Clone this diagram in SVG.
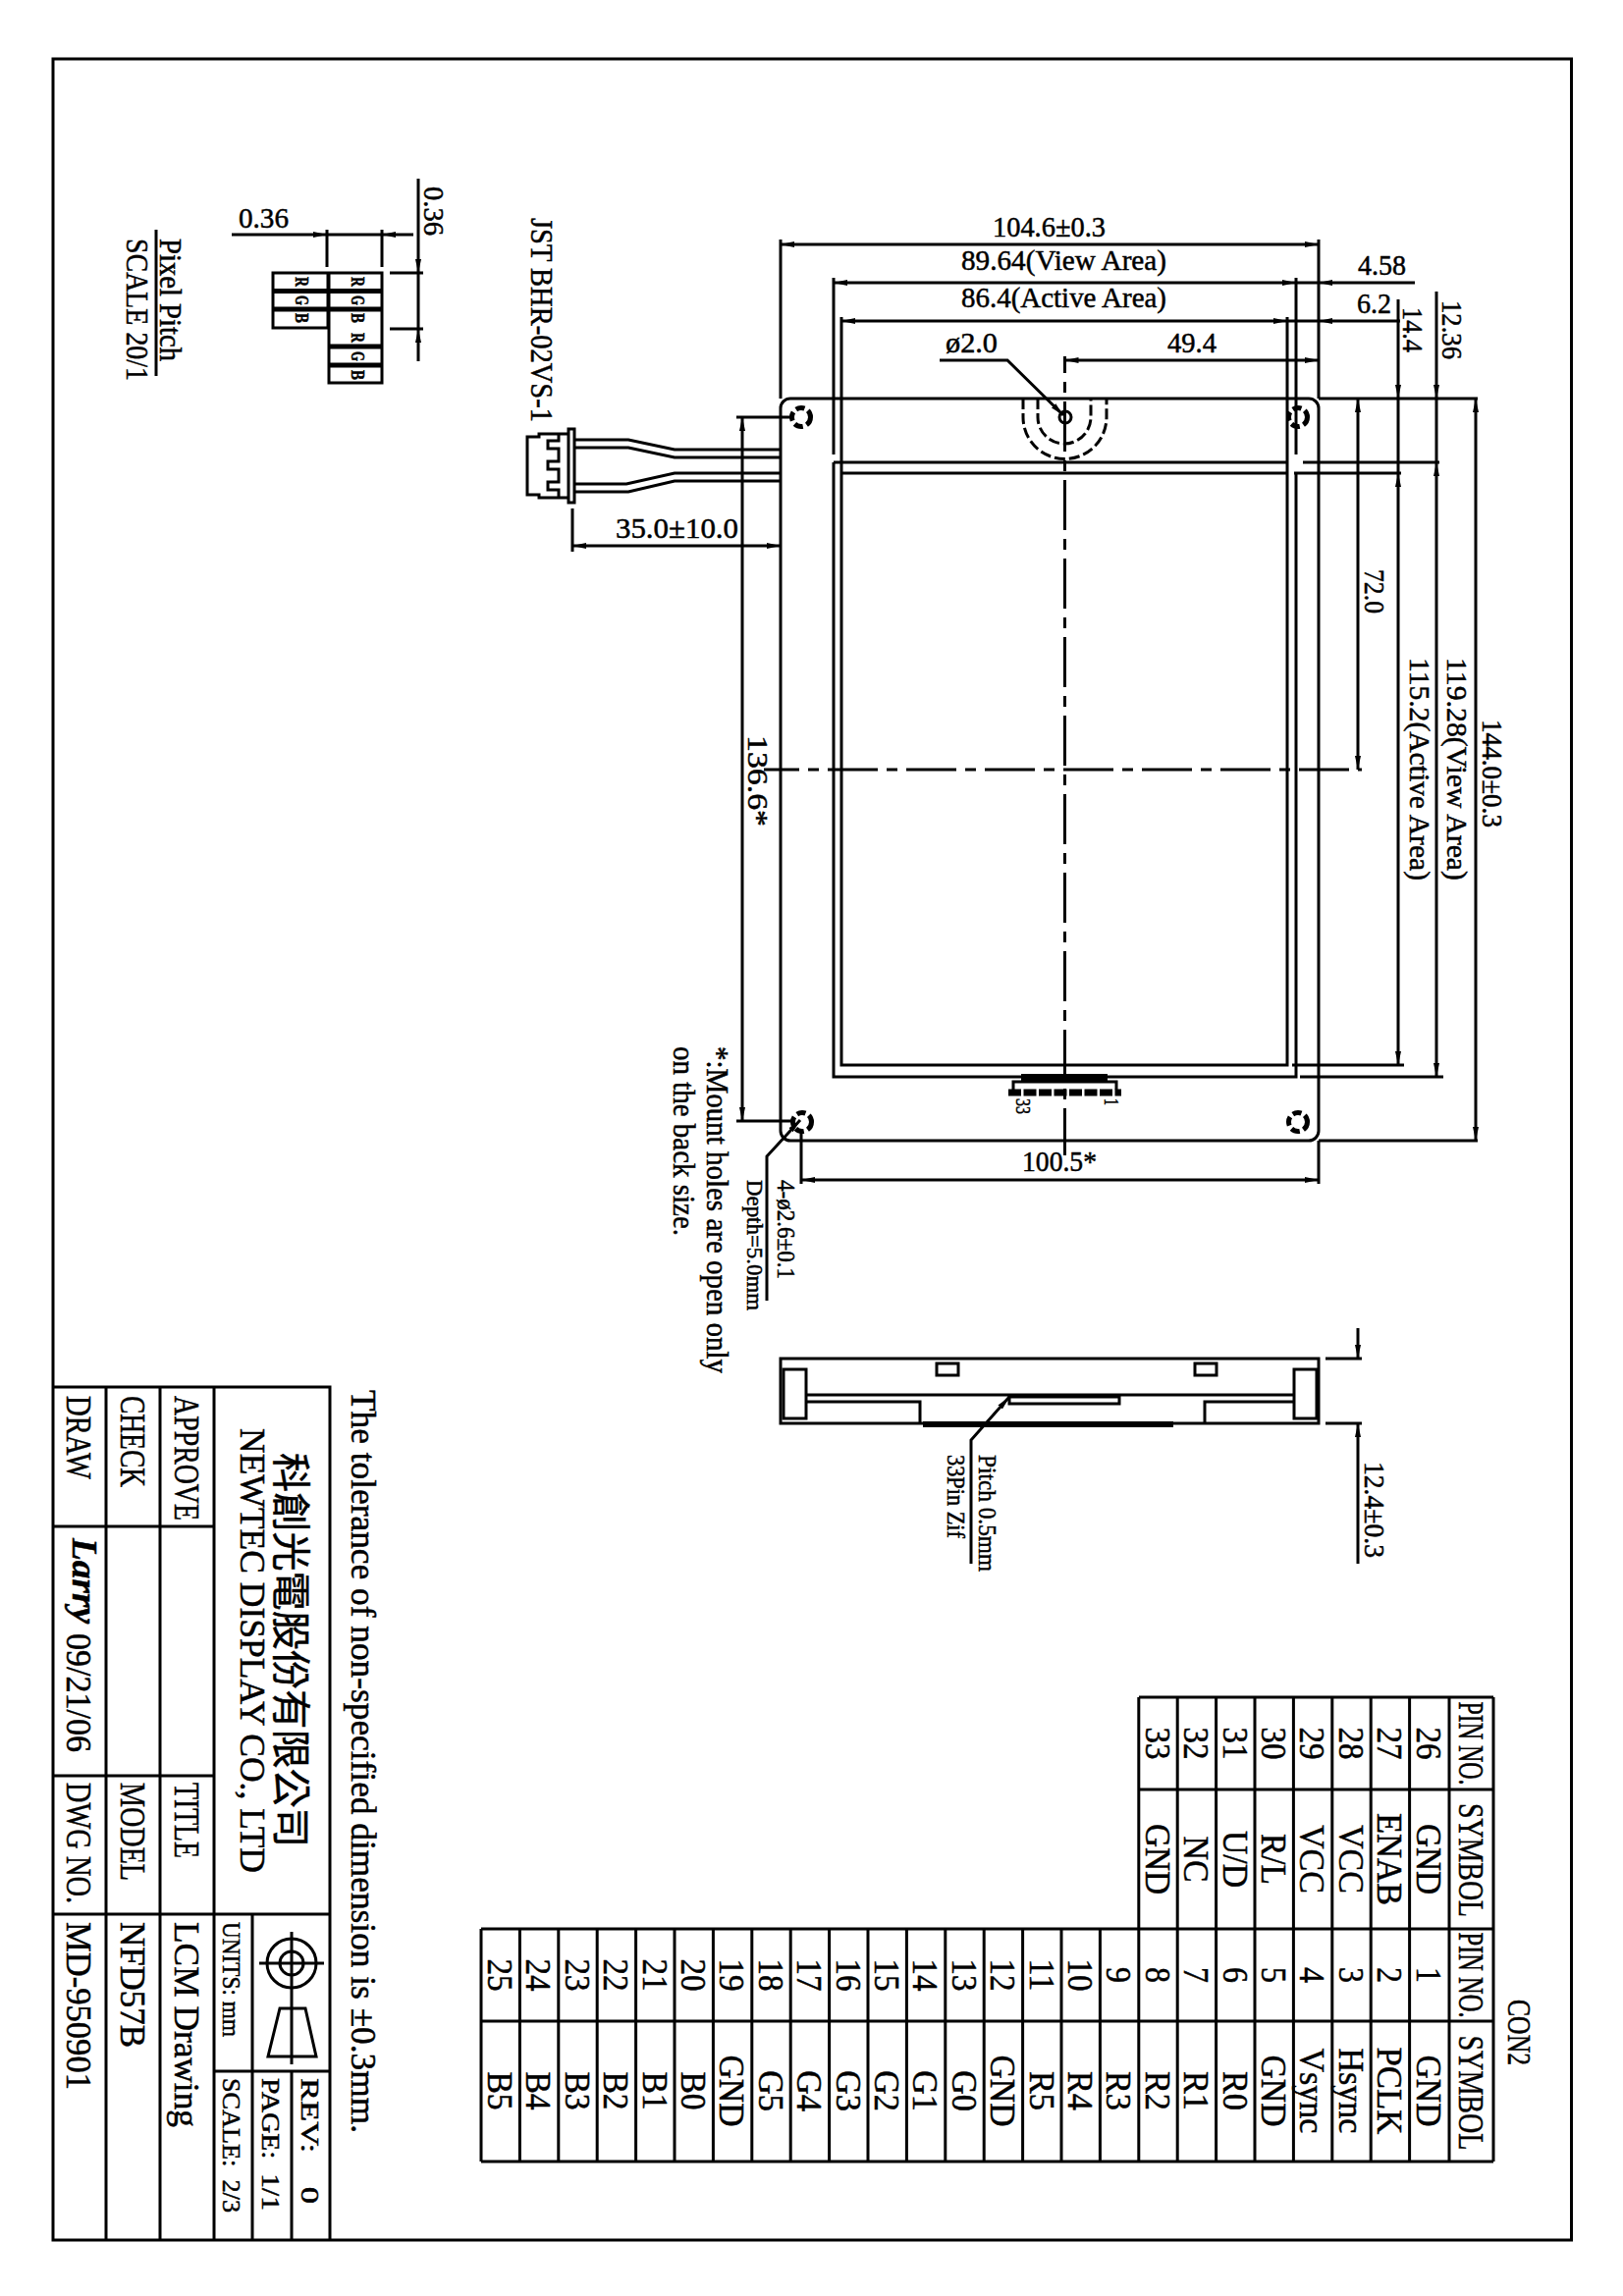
<svg xmlns="http://www.w3.org/2000/svg" width="1653" height="2339" viewBox="0 0 1653 2339">
<style>
text{font-family:"Liberation Serif","Noto Sans CJK TC",serif;fill:#000;stroke:#000;stroke-width:.5;white-space:pre}
.f30{font-size:30px}.f36{font-size:36px}.f26{font-size:26px}.f24{font-size:24px}.f32{font-size:32px}.f18{font-size:18px;font-weight:bold}.f20{font-size:20px}.f34{font-size:34px}
.m{text-anchor:middle}
.l{fill:none;stroke:#000;stroke-width:3}
.t{fill:none;stroke:#000;stroke-width:3}
.d{fill:none;stroke:#000;stroke-width:3;stroke-dasharray:11 4}
.h{fill:none;stroke:#000;stroke-width:5;stroke-dasharray:9 4}
.a{fill:none;stroke:#000;stroke-width:3;marker-end:url(#ar)}
.k{fill:#000}
</style>
<defs><marker id="ar" markerUnits="userSpaceOnUse" viewBox="0 0 14 6" refX="14" refY="3" markerWidth="14" markerHeight="6" orient="auto"><path d="M0,0 L14,3 L0,6 Z" fill="#000"/></marker></defs>
<rect fill="#fff" width="1653" height="2339"/>
<g id="frame"><rect class="l" x="54" y="60" width="1546.500" height="2222"/></g>

<g id="pixel-pitch">
<path class="l" d="M278,278H334V334H278ZM335,278H389V390H335Z"/>
<path class="l" style="stroke-width:5" d="M278,296.500H389M278,315H389M335,353H389M335,372H389"/>
<g class="f18">
<text x="301" y="282" transform="rotate(90 301 282)" textLength="10" lengthAdjust="spacingAndGlyphs">R</text>
<text x="301" y="301" transform="rotate(90 301 301)" textLength="10" lengthAdjust="spacingAndGlyphs">G</text>
<text x="301" y="319" transform="rotate(90 301 319)" textLength="10" lengthAdjust="spacingAndGlyphs">B</text>
<text x="358" y="282" transform="rotate(90 358 282)" textLength="10" lengthAdjust="spacingAndGlyphs">R</text>
<text x="358" y="301" transform="rotate(90 358 301)" textLength="10" lengthAdjust="spacingAndGlyphs">G</text>
<text x="358" y="319" transform="rotate(90 358 319)" textLength="10" lengthAdjust="spacingAndGlyphs">B</text>
<text x="358" y="339" transform="rotate(90 358 339)" textLength="10" lengthAdjust="spacingAndGlyphs">R</text>
<text x="358" y="358" transform="rotate(90 358 358)" textLength="10" lengthAdjust="spacingAndGlyphs">G</text>
<text x="358" y="377" transform="rotate(90 358 377)" textLength="10" lengthAdjust="spacingAndGlyphs">B</text>
</g>
<path class="t" d="M333,234V272M389,234V272M333,239H389M397,278H431M397,335H431"/>
<path class="a" d="M236,239H333"/><path class="a" d="M421,239H389"/>
<path class="a" d="M426,182V278"/><path class="a" d="M426,368V335"/><path class="t" d="M426,278V335"/>
<text class="f30" x="243" y="232" textLength="51" lengthAdjust="spacingAndGlyphs">0.36</text>
<text class="f30" x="432" y="190" transform="rotate(90 432 190)" textLength="50" lengthAdjust="spacingAndGlyphs">0.36</text>
<text class="f32" x="163" y="243" transform="rotate(90 163 243)" textLength="125" lengthAdjust="spacingAndGlyphs">Pixel Pitch</text>
<path class="t" d="M159,234V383"/>
<text class="f32" x="129" y="243" transform="rotate(90 129 243)" textLength="145" lengthAdjust="spacingAndGlyphs">SCALE 20/1</text>
</g>

<g id="connector-jst">
<text class="f32" x="541" y="222" transform="rotate(90 541 222)" textLength="208" lengthAdjust="spacingAndGlyphs">JST BHR-02VS-1</text>
<path class="l" d="M579,442H549V445H537V504H549V507H579M579,437H585V512H579ZM569,442V449H558V457H569V470H558V478H569V491H558V499H569V507"/>
<path class="l" d="M585,448H640L687,458H795M585,456H640L687,466H795M585,493H638L687,482H795M585,501H640L687,490H795"/>
<path class="t" d="M583,518V562"/>
<path class="a" d="M690,556H583"/><path class="a" d="M690,556H795"/>
<text class="f30" x="627" y="548" textLength="125" lengthAdjust="spacingAndGlyphs">35.0±10.0</text>
</g>

<g id="module-front">
<rect class="l" x="795" y="406" width="548" height="756" rx="10"/>
<path class="l" d="M849,471V1097H1320V482M857,482H1311V1085H857ZM849,471H1311M857,323V482M1311,323V482M849,283V463M1320,283V463"/>
<path class="l" d="M795,244V406M1343,244V406M1343,1162V1206M816,1150V1206M1343,406H1505M1343,1162H1505M1327,471H1466M1318,482H1427M1316,1085H1430M1324,1097H1470"/>
<g id="holes">
<circle class="h" cx="816" cy="425" r="9.500"/><circle class="h" cx="1322" cy="425" r="9.500"/><circle class="h" cx="817" cy="1143" r="9.500"/><circle class="h" cx="1322" cy="1143" r="9.500"/>
</g>
<path class="d" d="M1042,406V425A42.500,42.500 0 0 0 1127,425V406M1057,406V425A27,27 0 0 0 1111,425V406"/>
<circle class="t" cx="1085" cy="425" r="6"/>
<path class="t" style="stroke-dasharray:51 9 11 9;stroke-dashoffset:34" d="M1084.500,363V1177"/>
<path class="t" style="stroke-dasharray:51 9 11 9;stroke-dashoffset:15" d="M778,784H1387"/>
<path class="a" d="M957,367H1026L1083,423"/>
<rect class="k" x="1040" y="1094" width="88" height="8"/>
<path class="t" d="M1032,1110V1102H1137V1110"/>
<path class="t" style="stroke-dasharray:13 2.500;stroke-width:7" d="M1027,1113H1142"/>
<text class="f20" x="1035" y="1119" transform="rotate(90 1035 1119)" textLength="16" lengthAdjust="spacingAndGlyphs">33</text>
<text class="f20" x="1125" y="1119" transform="rotate(90 1125 1119)" textLength="7" lengthAdjust="spacingAndGlyphs">1</text>
</g>

<g id="connectors">
<path class="a" d="M1072,249H795"/><path class="a" d="M1072,249H1343"/>
<path class="a" d="M1084,288H849"/><path class="a" d="M1084,288H1320"/><path class="a" d="M1441,288H1343"/><path class="t" d="M1320,288H1343"/>
<path class="a" d="M1085,327H857"/><path class="a" d="M1085,327H1311"/><path class="a" d="M1426,327H1343"/><path class="t" d="M1311,327H1343"/>
<path class="a" d="M1200,367H1084.500"/><path class="a" d="M1200,367H1343"/>
<path class="a" d="M1383,600V406"/><path class="a" d="M1383,600V784"/>
<path class="a" d="M1424,305V406"/><path class="a" d="M1424,800V482"/><path class="a" d="M1424,800V1085"/><path class="t" d="M1424,406V482"/>
<path class="a" d="M1463,297V406"/><path class="a" d="M1463,800V471"/><path class="a" d="M1463,800V1097"/><path class="t" d="M1463,406V471"/>
<path class="a" d="M1503,800V406"/><path class="a" d="M1503,800V1162"/>
<path class="a" d="M756,800V425"/><path class="a" d="M756,800V1142"/><path class="t" d="M750,425H806M750,1142H808"/>
<path class="a" d="M1080,1202H816"/><path class="a" d="M1080,1202H1343"/>
<path class="a" d="M781,1325V1178L815,1141"/>
<text class="f30" x="1011" y="241" textLength="115" lengthAdjust="spacingAndGlyphs">104.6±0.3</text>
<text class="f30" x="979" y="275" textLength="209" lengthAdjust="spacingAndGlyphs">89.64(View Area)</text>
<text class="f30" x="979" y="313" textLength="209" lengthAdjust="spacingAndGlyphs">86.4(Active Area)</text>
<text class="f30" x="963" y="359" textLength="53" lengthAdjust="spacingAndGlyphs">ø2.0</text>
<text class="f30" x="1189" y="359" textLength="50" lengthAdjust="spacingAndGlyphs">49.4</text>
<text class="f30" x="1383" y="280" textLength="49" lengthAdjust="spacingAndGlyphs">4.58</text>
<text class="f30" x="1382" y="319" textLength="35" lengthAdjust="spacingAndGlyphs">6.2</text>
<text class="f30" x="1429" y="313" transform="rotate(90 1429 313)" textLength="46" lengthAdjust="spacingAndGlyphs">14.4</text>
<text class="f30" x="1469" y="306" transform="rotate(90 1469 306)" textLength="60" lengthAdjust="spacingAndGlyphs">12.36</text>
<text class="f30" x="1390" y="580" transform="rotate(90 1390 580)" textLength="45" lengthAdjust="spacingAndGlyphs">72.0</text>
<text class="f30" x="1436" y="670" transform="rotate(90 1436 670)" textLength="227" lengthAdjust="spacingAndGlyphs">115.2(Active Area)</text>
<text class="f30" x="1474" y="670" transform="rotate(90 1474 670)" textLength="227" lengthAdjust="spacingAndGlyphs">119.28(View Area)</text>
<text class="f30" x="1510" y="733" transform="rotate(90 1510 733)" textLength="110" lengthAdjust="spacingAndGlyphs">144.0±0.3</text>
<text class="f30" x="762" y="749" transform="rotate(90 762 749)" textLength="93" lengthAdjust="spacingAndGlyphs">136.6*</text>
<text class="f30" x="1041" y="1193" textLength="76" lengthAdjust="spacingAndGlyphs">100.5*</text>
<text class="f26" x="792" y="1202" transform="rotate(90 792 1202)" textLength="101" lengthAdjust="spacingAndGlyphs">4-ø2.6±0.1</text>
<text class="f24" x="761" y="1202" transform="rotate(90 761 1202)" textLength="133" lengthAdjust="spacingAndGlyphs">Depth=5.0mm</text>
<text class="f32" x="720" y="1066" transform="rotate(90 720 1066)" textLength="333" lengthAdjust="spacingAndGlyphs">*:Mount holes are open only</text>
<text class="f32" x="686" y="1066" transform="rotate(90 686 1066)" textLength="193" lengthAdjust="spacingAndGlyphs">on the back size.</text>
</g>

<g id="module-side">
<rect class="l" x="795" y="1384" width="548" height="66"/>
<path class="l" d="M954,1389H976V1401H954ZM1217,1389H1239V1401H1217ZM798,1395H821V1445H798ZM1318,1395H1341V1445H1318ZM821,1421H1318M821,1428H937V1449M1318,1428H1227V1449M1028,1423H1140V1430H1028Z"/>
<rect class="k" x="940" y="1448" width="255" height="6"/>
<path class="a" d="M989,1593V1467L1028,1423"/>
<path class="t" d="M1350,1384H1387M1350,1450H1387"/>
<path class="a" d="M1383,1353V1384"/><path class="a" d="M1383,1593V1450"/>
<text class="f26" x="997" y="1482" transform="rotate(90 997 1482)" textLength="119" lengthAdjust="spacingAndGlyphs">Pitch 0.5mm</text>
<text class="f26" x="965" y="1482" transform="rotate(90 965 1482)" textLength="85" lengthAdjust="spacingAndGlyphs">33Pin Zif</text>
<text class="f30" x="1390" y="1489" transform="rotate(90 1390 1489)" textLength="98" lengthAdjust="spacingAndGlyphs">12.4±0.3</text>
</g>

<g id="pin-table">
<path class="l" d="M490,1965H1521M490,2059H1521M490,2202H1521M1160,1729H1521M1160,1823H1521M1521,1729V2202M490,1965V2202"/>
<path class="t" d="M529.400,1965V2202M568.800,1965V2202M608.200,1965V2202M647.600,1965V2202M687,1965V2202M726.400,1965V2202M765.800,1965V2202M805.200,1965V2202M844.600,1965V2202M884,1965V2202M923.400,1965V2202M962.800,1965V2202M1002.200,1965V2202M1041.600,1965V2202M1081,1965V2202M1120.400,1965V2202M1159.800,1729V2202M1199.200,1729V2202M1238.600,1729V2202M1278,1729V2202M1317.400,1729V2202M1356.800,1729V2202M1396.200,1729V2202M1435.600,1729V2202M1476,1729V2202"/>
<text class="f34" x="1536" y="2037" transform="rotate(90 1536 2037)" textLength="67" lengthAdjust="spacingAndGlyphs">CON2</text>
<g class="f36 m">
<text x="1486" y="1776" transform="rotate(90 1486 1776)" textLength="85" lengthAdjust="spacingAndGlyphs">PIN NO.</text>
<text x="1486" y="1895" transform="rotate(90 1486 1895)" textLength="116" lengthAdjust="spacingAndGlyphs">SYMBOL</text>
<text x="1486" y="2012" transform="rotate(90 1486 2012)" textLength="87" lengthAdjust="spacingAndGlyphs">PIN NO.</text>
<text x="1486" y="2132" transform="rotate(90 1486 2132)" textLength="117" lengthAdjust="spacingAndGlyphs">SYMBOL</text>
<text x="1442.600" y="1776" transform="rotate(90 1442.600 1776)" textLength="33" lengthAdjust="spacingAndGlyphs">26</text>
<text x="1403.200" y="1776" transform="rotate(90 1403.200 1776)" textLength="33" lengthAdjust="spacingAndGlyphs">27</text>
<text x="1363.800" y="1776" transform="rotate(90 1363.800 1776)" textLength="33" lengthAdjust="spacingAndGlyphs">28</text>
<text x="1324.400" y="1776" transform="rotate(90 1324.400 1776)" textLength="33" lengthAdjust="spacingAndGlyphs">29</text>
<text x="1285" y="1776" transform="rotate(90 1285 1776)" textLength="33" lengthAdjust="spacingAndGlyphs">30</text>
<text x="1245.600" y="1776" transform="rotate(90 1245.600 1776)" textLength="33" lengthAdjust="spacingAndGlyphs">31</text>
<text x="1206.200" y="1776" transform="rotate(90 1206.200 1776)" textLength="33" lengthAdjust="spacingAndGlyphs">32</text>
<text x="1166.800" y="1776" transform="rotate(90 1166.800 1776)" textLength="33" lengthAdjust="spacingAndGlyphs">33</text>
<text x="1442.600" y="1894" transform="rotate(90 1442.600 1894)" textLength="72" lengthAdjust="spacingAndGlyphs">GND</text>
<text x="1403.200" y="1894" transform="rotate(90 1403.200 1894)" textLength="94" lengthAdjust="spacingAndGlyphs">ENAB</text>
<text x="1363.800" y="1894" transform="rotate(90 1363.800 1894)" textLength="70" lengthAdjust="spacingAndGlyphs">VCC</text>
<text x="1324.400" y="1894" transform="rotate(90 1324.400 1894)" textLength="70" lengthAdjust="spacingAndGlyphs">VCC</text>
<text x="1285" y="1894" transform="rotate(90 1285 1894)" textLength="52" lengthAdjust="spacingAndGlyphs">R/L</text>
<text x="1245.600" y="1894" transform="rotate(90 1245.600 1894)" textLength="58" lengthAdjust="spacingAndGlyphs">U/D</text>
<text x="1206.200" y="1894" transform="rotate(90 1206.200 1894)" textLength="47" lengthAdjust="spacingAndGlyphs">NC</text>
<text x="1166.800" y="1894" transform="rotate(90 1166.800 1894)" textLength="72" lengthAdjust="spacingAndGlyphs">GND</text>
<text x="1442.600" y="2012" transform="rotate(90 1442.600 2012)" textLength="16" lengthAdjust="spacingAndGlyphs">1</text>
<text x="1403.200" y="2012" transform="rotate(90 1403.200 2012)" textLength="16" lengthAdjust="spacingAndGlyphs">2</text>
<text x="1363.800" y="2012" transform="rotate(90 1363.800 2012)" textLength="16" lengthAdjust="spacingAndGlyphs">3</text>
<text x="1324.400" y="2012" transform="rotate(90 1324.400 2012)" textLength="16" lengthAdjust="spacingAndGlyphs">4</text>
<text x="1285" y="2012" transform="rotate(90 1285 2012)" textLength="16" lengthAdjust="spacingAndGlyphs">5</text>
<text x="1245.600" y="2012" transform="rotate(90 1245.600 2012)" textLength="16" lengthAdjust="spacingAndGlyphs">6</text>
<text x="1206.200" y="2012" transform="rotate(90 1206.200 2012)" textLength="16" lengthAdjust="spacingAndGlyphs">7</text>
<text x="1166.800" y="2012" transform="rotate(90 1166.800 2012)" textLength="16" lengthAdjust="spacingAndGlyphs">8</text>
<text x="1127.400" y="2012" transform="rotate(90 1127.400 2012)" textLength="16" lengthAdjust="spacingAndGlyphs">9</text>
<text x="1088" y="2012" transform="rotate(90 1088 2012)" textLength="33" lengthAdjust="spacingAndGlyphs">10</text>
<text x="1048.600" y="2012" transform="rotate(90 1048.600 2012)" textLength="33" lengthAdjust="spacingAndGlyphs">11</text>
<text x="1009.200" y="2012" transform="rotate(90 1009.200 2012)" textLength="33" lengthAdjust="spacingAndGlyphs">12</text>
<text x="969.800" y="2012" transform="rotate(90 969.800 2012)" textLength="33" lengthAdjust="spacingAndGlyphs">13</text>
<text x="930.400" y="2012" transform="rotate(90 930.400 2012)" textLength="33" lengthAdjust="spacingAndGlyphs">14</text>
<text x="891" y="2012" transform="rotate(90 891 2012)" textLength="33" lengthAdjust="spacingAndGlyphs">15</text>
<text x="851.600" y="2012" transform="rotate(90 851.600 2012)" textLength="33" lengthAdjust="spacingAndGlyphs">16</text>
<text x="812.200" y="2012" transform="rotate(90 812.200 2012)" textLength="33" lengthAdjust="spacingAndGlyphs">17</text>
<text x="772.800" y="2012" transform="rotate(90 772.800 2012)" textLength="33" lengthAdjust="spacingAndGlyphs">18</text>
<text x="733.400" y="2012" transform="rotate(90 733.400 2012)" textLength="33" lengthAdjust="spacingAndGlyphs">19</text>
<text x="694" y="2012" transform="rotate(90 694 2012)" textLength="33" lengthAdjust="spacingAndGlyphs">20</text>
<text x="654.600" y="2012" transform="rotate(90 654.600 2012)" textLength="33" lengthAdjust="spacingAndGlyphs">21</text>
<text x="615.200" y="2012" transform="rotate(90 615.200 2012)" textLength="33" lengthAdjust="spacingAndGlyphs">22</text>
<text x="575.800" y="2012" transform="rotate(90 575.800 2012)" textLength="33" lengthAdjust="spacingAndGlyphs">23</text>
<text x="536.400" y="2012" transform="rotate(90 536.400 2012)" textLength="33" lengthAdjust="spacingAndGlyphs">24</text>
<text x="497" y="2012" transform="rotate(90 497 2012)" textLength="33" lengthAdjust="spacingAndGlyphs">25</text>
<text x="1442.600" y="2130" transform="rotate(90 1442.600 2130)" textLength="73" lengthAdjust="spacingAndGlyphs">GND</text>
<text x="1403.200" y="2130" transform="rotate(90 1403.200 2130)" textLength="89" lengthAdjust="spacingAndGlyphs">PCLK</text>
<text x="1363.800" y="2130" transform="rotate(90 1363.800 2130)" textLength="87" lengthAdjust="spacingAndGlyphs">Hsync</text>
<text x="1324.400" y="2130" transform="rotate(90 1324.400 2130)" textLength="87" lengthAdjust="spacingAndGlyphs">Vsync</text>
<text x="1285" y="2130" transform="rotate(90 1285 2130)" textLength="73" lengthAdjust="spacingAndGlyphs">GND</text>
<text x="1245.600" y="2130" transform="rotate(90 1245.600 2130)" textLength="40" lengthAdjust="spacingAndGlyphs">R0</text>
<text x="1206.200" y="2130" transform="rotate(90 1206.200 2130)" textLength="40" lengthAdjust="spacingAndGlyphs">R1</text>
<text x="1166.800" y="2130" transform="rotate(90 1166.800 2130)" textLength="40" lengthAdjust="spacingAndGlyphs">R2</text>
<text x="1127.400" y="2130" transform="rotate(90 1127.400 2130)" textLength="40" lengthAdjust="spacingAndGlyphs">R3</text>
<text x="1088" y="2130" transform="rotate(90 1088 2130)" textLength="40" lengthAdjust="spacingAndGlyphs">R4</text>
<text x="1048.600" y="2130" transform="rotate(90 1048.600 2130)" textLength="40" lengthAdjust="spacingAndGlyphs">R5</text>
<text x="1009.200" y="2130" transform="rotate(90 1009.200 2130)" textLength="73" lengthAdjust="spacingAndGlyphs">GND</text>
<text x="969.800" y="2130" transform="rotate(90 969.800 2130)" textLength="42" lengthAdjust="spacingAndGlyphs">G0</text>
<text x="930.400" y="2130" transform="rotate(90 930.400 2130)" textLength="42" lengthAdjust="spacingAndGlyphs">G1</text>
<text x="891" y="2130" transform="rotate(90 891 2130)" textLength="42" lengthAdjust="spacingAndGlyphs">G2</text>
<text x="851.600" y="2130" transform="rotate(90 851.600 2130)" textLength="42" lengthAdjust="spacingAndGlyphs">G3</text>
<text x="812.200" y="2130" transform="rotate(90 812.200 2130)" textLength="42" lengthAdjust="spacingAndGlyphs">G4</text>
<text x="772.800" y="2130" transform="rotate(90 772.800 2130)" textLength="42" lengthAdjust="spacingAndGlyphs">G5</text>
<text x="733.400" y="2130" transform="rotate(90 733.400 2130)" textLength="73" lengthAdjust="spacingAndGlyphs">GND</text>
<text x="694" y="2130" transform="rotate(90 694 2130)" textLength="39" lengthAdjust="spacingAndGlyphs">B0</text>
<text x="654.600" y="2130" transform="rotate(90 654.600 2130)" textLength="39" lengthAdjust="spacingAndGlyphs">B1</text>
<text x="615.200" y="2130" transform="rotate(90 615.200 2130)" textLength="39" lengthAdjust="spacingAndGlyphs">B2</text>
<text x="575.800" y="2130" transform="rotate(90 575.800 2130)" textLength="39" lengthAdjust="spacingAndGlyphs">B3</text>
<text x="536.400" y="2130" transform="rotate(90 536.400 2130)" textLength="39" lengthAdjust="spacingAndGlyphs">B4</text>
<text x="497" y="2130" transform="rotate(90 497 2130)" textLength="39" lengthAdjust="spacingAndGlyphs">B5</text>
</g>
</g>

<g id="title-block">
<path class="l" d="M54,1413H336V2282M108,1413V2282M163,1413V2282M218,1413V2282M54,1555H218M54,1809H218M54,1950H336M218,2110H336M257,1950V2282M297,2110V2282"/>
<circle class="t" cx="297" cy="2000" r="25"/><circle class="t" cx="297" cy="2000" r="12"/>
<path class="t" d="M264,2000H330M297,1968V2103M285,2046H311L322,2095H273Z"/>
<g class="f36">
<text x="68" y="1422" transform="rotate(90 68 1422)" textLength="85" lengthAdjust="spacingAndGlyphs">DRAW</text>
<text x="123" y="1422" transform="rotate(90 123 1422)" textLength="93" lengthAdjust="spacingAndGlyphs">CHECK</text>
<text x="178" y="1422" transform="rotate(90 178 1422)" textLength="127" lengthAdjust="spacingAndGlyphs">APPROVE</text>
<text x="74" y="1567" transform="rotate(90 74 1567)" textLength="87" lengthAdjust="spacingAndGlyphs" style="font-style:italic;font-weight:bold">Larry</text>
<text x="68" y="1664" transform="rotate(90 68 1664)" textLength="121" lengthAdjust="spacingAndGlyphs">09/21/06</text>
<text x="68" y="1816" transform="rotate(90 68 1816)" textLength="123" lengthAdjust="spacingAndGlyphs">DWG NO.</text>
<text x="123" y="1816" transform="rotate(90 123 1816)" textLength="100" lengthAdjust="spacingAndGlyphs">MODEL</text>
<text x="178" y="1816" transform="rotate(90 178 1816)" textLength="77" lengthAdjust="spacingAndGlyphs">TITLE</text>
<text x="68" y="1958" transform="rotate(90 68 1958)" textLength="171" lengthAdjust="spacingAndGlyphs">MD-950901</text>
<text x="123" y="1958" transform="rotate(90 123 1958)" textLength="128" lengthAdjust="spacingAndGlyphs">NFD57B</text>
<text x="178" y="1958" transform="rotate(90 178 1958)" textLength="209" lengthAdjust="spacingAndGlyphs">LCM Drawing</text>
<text x="245" y="1455" transform="rotate(90 245 1455)" textLength="453" lengthAdjust="spacingAndGlyphs">NEWTEC DISPLAY CO., LTD</text>
<text x="358" y="1416" transform="rotate(90 358 1416)" textLength="757" lengthAdjust="spacingAndGlyphs">The tolerance of non-specified dimension is ±0.3mm.</text>
</g>
<text x="282" y="1480" transform="rotate(90 282 1480)" textLength="402" lengthAdjust="spacingAndGlyphs" style="font-size:40px">科創光電股份有限公司</text>
<g class="f26">
<text x="227" y="1958" transform="rotate(90 227 1958)" textLength="117" lengthAdjust="spacingAndGlyphs">UNITS: mm</text>
<text x="227" y="2117" transform="rotate(90 227 2117)" textLength="137" lengthAdjust="spacingAndGlyphs">SCALE:  2/3</text>
<text x="267" y="2117" transform="rotate(90 267 2117)" textLength="135" lengthAdjust="spacingAndGlyphs">PAGE:  1/1</text>
<text x="307" y="2117" transform="rotate(90 307 2117)" textLength="128" lengthAdjust="spacingAndGlyphs">REV:    0</text>
</g>
</g>
</svg>
